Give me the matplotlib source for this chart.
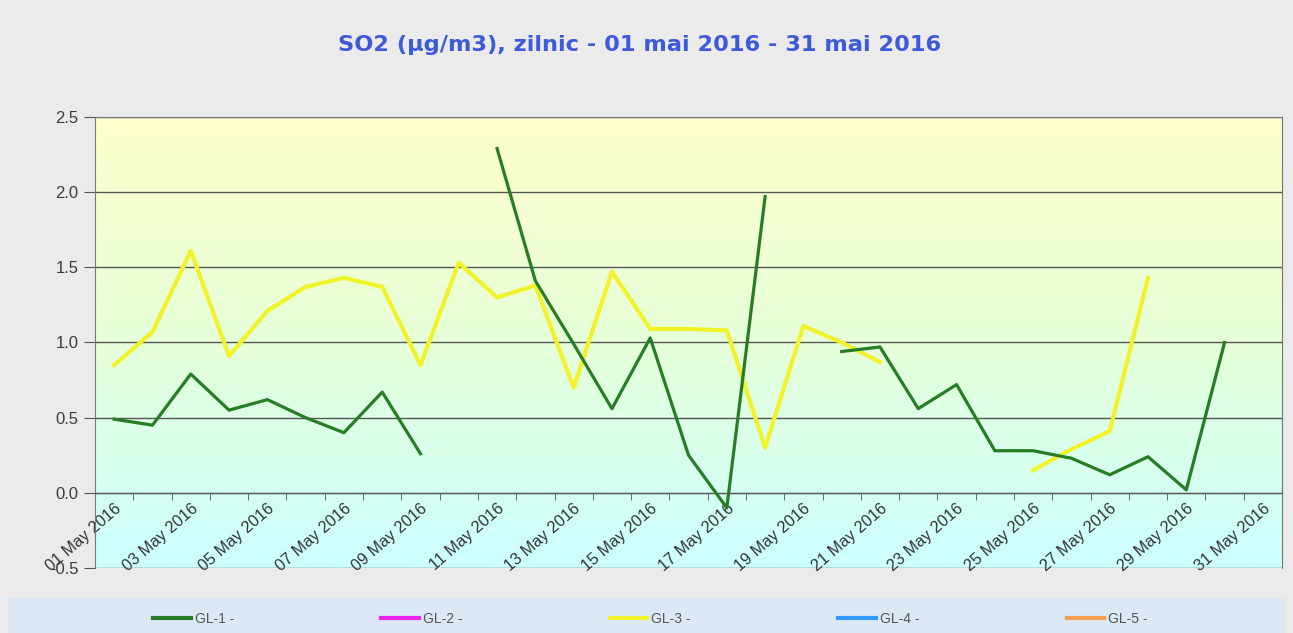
"""
SO2 daily chart, May 2016 (GL-1 .. GL-5 stations).
"""

import matplotlib.pyplot as plt
import numpy as np
from matplotlib.patches import Rectangle
from matplotlib.lines import Line2D

nan = np.nan

days = list(range(1, 32))
day_labels = [f"{d:02d} May 2016" for d in days]

gl1 = [0.49, 0.45, 0.79, 0.55, 0.62, 0.50, 0.40, 0.67, 0.26, nan,
       2.29, 1.41, 0.99, 0.56, 1.03, 0.25, -0.10, 1.97, nan, 0.94,
       0.97, 0.56, 0.72, 0.28, 0.28, 0.23, 0.12, 0.24, 0.02, 1.00, nan]
gl3 = [0.85, 1.07, 1.61, 0.91, 1.21, 1.37, 1.43, 1.37, 0.85, 1.53,
       1.30, 1.38, 0.70, 1.47, 1.09, 1.09, 1.08, 0.30, 1.11, 1.00,
       0.87, nan, nan, nan, 0.15, 0.29, 0.41, 1.43, nan, nan, nan]

series_names = ["GL-1 -", "GL-2 -", "GL-3 -", "GL-4 -", "GL-5 -"]
series_colors = ["#267d26", "#ee22ee", "#f2f22a", "#3399ff", "#f0a050"]

plt.rcParams["font.family"] = ["Liberation Sans", "DejaVu Sans"]
fig = plt.figure(figsize=(12.93, 6.33), dpi=100)
fig.patch.set_facecolor("#ebebeb")

ax = fig.add_axes([0.0735, 0.1027, 0.9915 - 0.0735, 0.8152 - 0.1027])
ax.set_xlim(0.5, 31.5)
ax.set_ylim(-0.5, 2.5)

# yellow -> cyan gradient behind the plot (row 0 = top)
g = np.linspace(0, 1, 256).reshape(-1, 1, 1)
top = np.array([1.0, 1.0, 0.80])
mid = np.array([0.90, 1.0, 0.85])
bot = np.array([0.80, 1.0, 1.0])
colors = np.where(g < 0.5, top + (mid - top) * (g / 0.5), mid + (bot - mid) * ((g - 0.5) / 0.5))
ax.imshow(np.clip(colors, 0, 1), extent=[0.5, 31.5, -0.5, 2.5], aspect="auto",
          origin="upper", zorder=0)

for yv in np.arange(-0.5, 2.51, 0.5):
    ax.axhline(yv, color="#555555", lw=1.0, zorder=1)

ax.plot(days, gl1, color=series_colors[0], lw=2.3, zorder=3)
ax.plot(days, gl3, color=series_colors[2], lw=3.0, zorder=2)

for s in ["top", "right", "left"]:
    ax.spines[s].set_color("#777777")
ax.spines["bottom"].set_position(("data", 0))
ax.spines["bottom"].set_color("#555555")

yt = np.arange(-0.5, 2.51, 0.5)
ax.set_yticks(yt)
ax.set_yticklabels([f"{v:.1f}" for v in yt])
ax.tick_params(axis="y", length=8, color="#555555", pad=4, labelsize=12, labelcolor="#3c3c3c")

ax.set_xticks(days[::2])
ax.set_xticklabels(day_labels[::2], rotation=41, ha="right", va="top",
                   rotation_mode="anchor", fontsize=11.7, color="#333333")
ax.set_xticks(np.arange(1.5, 31.5, 1), minor=True)
ax.tick_params(axis="x", which="major", length=0, pad=6)
ax.tick_params(axis="x", which="minor", length=5, color="#555555", direction="out")

fig.suptitle("SO2 (µg/m3), zilnic - 01 mai 2016 - 31 mai 2016", y=0.945,
             x=0.495, fontsize=16.2, fontweight="bold", color="#3d5bd9",
             family=["DejaVu Sans"])

# legend strip
fig.patches.append(Rectangle((0.006, 0.0), 0.988, 0.055, transform=fig.transFigure,
                             facecolor="#dce8f6", edgecolor="none", zorder=0))
handles = [Line2D([0], [0], color=c, lw=3) for c in series_colors]
fig.legend(handles, series_names, loc="center", bbox_to_anchor=(0.503, 0.022),
           ncol=5, frameon=False, fontsize=10, handlelength=2.7, handletextpad=0.3,
           columnspacing=10.6, labelcolor="#555555")

fig.savefig("out.png", dpi=100, facecolor=fig.get_facecolor())
